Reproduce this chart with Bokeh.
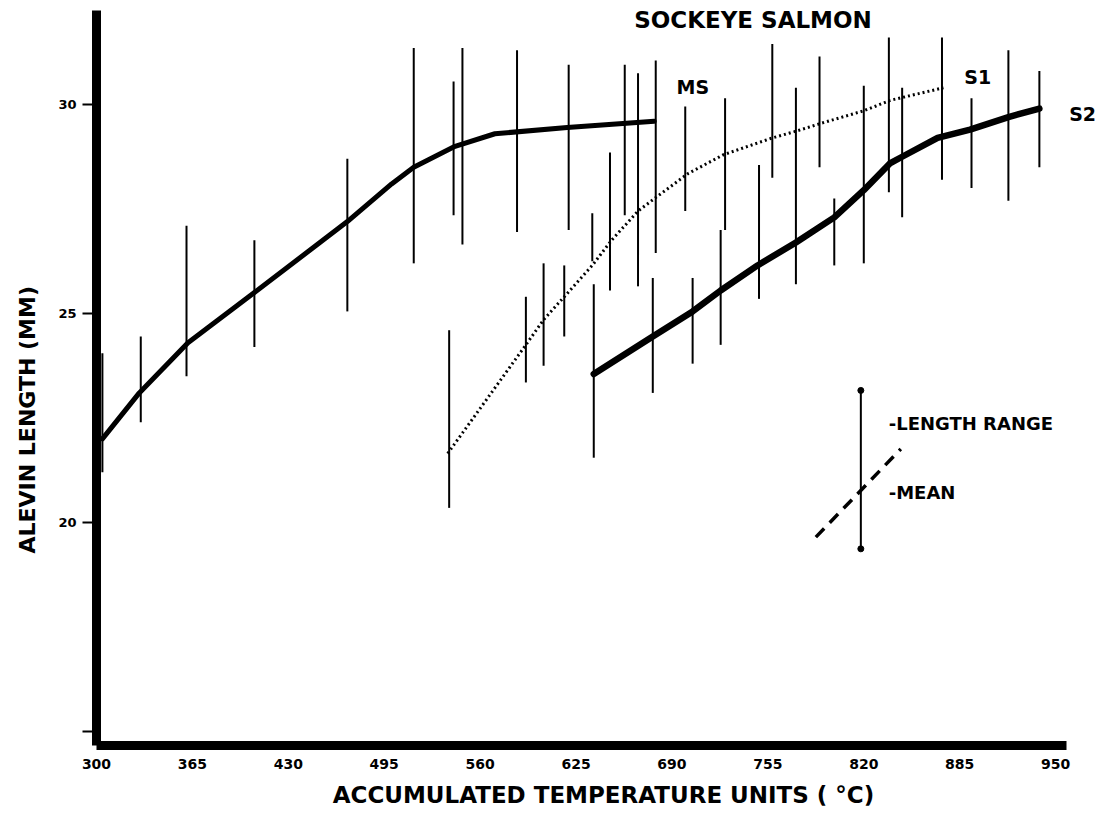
from bokeh.plotting import figure
from bokeh.models import Range1d, FixedTicker, Title
from bokeh.core.properties import value
from bokeh.embed import file_html
from bokeh.resources import INLINE

# ---- data ----
x_ticks = [300, 365, 430, 495, 560, 625, 690, 755, 820, 885, 950]
x_tick_labels = ["300", "365", "430", "495", "560", "625", "690", "755", "820", "885", "950"]
y_ticks = [15, 20, 25, 30]
y_tick_labels = ["", "20", "25", "30"]

ms_x = [304, 329, 362, 407, 470, 500, 515, 543, 570, 619, 678]
ms_y = [22.0, 23.1, 24.3, 25.5, 27.2, 28.1, 28.5, 29.0, 29.3, 29.45, 29.6]

s1_x = [538, 591, 603, 617, 636, 649, 667, 680, 701, 725, 758, 773, 791, 820, 838, 874]
s1_y = [21.65, 24.25, 24.85, 25.4, 26.15, 26.75, 27.45, 27.8, 28.35, 28.8, 29.2, 29.35, 29.55, 29.85, 30.1, 30.4]

s2_x = [637, 677, 704, 723, 748, 774, 800, 820, 838, 846, 870, 892, 918, 939]
s2_y = [23.55, 24.45, 25.05, 25.55, 26.15, 26.7, 27.3, 27.95, 28.6, 28.75, 29.2, 29.4, 29.7, 29.9]

bar_x = [304, 330, 361, 407, 470, 515, 542, 548, 539, 585, 591, 603, 617, 620, 636, 637, 648, 658, 667, 679,
         677, 699, 704, 726, 723, 749, 758, 774, 790, 800, 820, 837, 846, 873, 893, 918, 939]
bar_hi = [24.05, 24.45, 27.1, 26.75, 28.7, 31.35, 30.55, 31.35, 24.6, 31.3, 25.4, 26.2, 26.15, 30.95, 27.4, 25.7,
          28.85, 30.95, 30.75, 31.05, 25.85, 29.95, 25.85, 30.15, 27.0, 28.55, 31.45, 30.4, 31.15, 27.75, 30.45,
          31.6, 30.4, 31.6, 30.15, 31.3, 30.8]
bar_lo = [21.2, 22.4, 23.5, 24.2, 25.05, 26.2, 27.35, 26.65, 20.35, 26.95, 23.35, 23.75, 24.45, 27.0, 26.25, 21.55,
          25.55, 27.35, 25.65, 26.45, 23.1, 27.45, 23.8, 27.0, 24.25, 25.35, 28.25, 25.7, 28.5, 26.15, 26.2,
          27.9, 27.3, 28.2, 28.0, 27.7, 28.5]

# key (explanation) sample
key_x = [818]
key_lo = [19.37]
key_hi = [23.16]
key_dash_x = [787.5, 845.1]
key_dash_y = [19.65, 21.76]

FONT = value("DejaVu Sans")

p = figure(width=1110, height=813, output_backend="svg", toolbar_location=None,
           x_range=Range1d(300, 987.2), y_range=Range1d(14.665, 32.488),
           min_border_left=95, min_border_right=0, min_border_top=0, min_border_bottom=68)
p.outline_line_color = None
p.grid.visible = False
p.background_fill_color = "white"

# axes
xa = p.xaxis[0]
xa.ticker = FixedTicker(ticks=x_ticks)
xa.major_label_overrides = {t: l for t, l in zip(x_ticks, x_tick_labels)}
xa.bounds = (297, 957.5)
xa.axis_line_width = 9
xa.axis_line_color = "black"
xa.major_tick_line_color = None
xa.minor_tick_line_color = None
xa.major_tick_out = 0
xa.major_tick_in = 0
xa.major_label_standoff = 13
xa.major_label_text_font = "DejaVu Sans"
xa.major_label_text_font_style = "bold"
xa.major_label_text_font_size = "14px"
xa.major_label_text_color = "black"
xa.axis_label = "ACCUMULATED TEMPERATURE UNITS ( °C)"
xa.axis_label_standoff = 10
xa.axis_label_text_font = "DejaVu Sans"
xa.axis_label_text_font_style = "bold"
xa.axis_label_text_font_size = "23px"
xa.axis_label_text_color = "black"

ya = p.yaxis[0]
ya.ticker = FixedTicker(ticks=y_ticks)
ya.major_label_overrides = {t: l for t, l in zip(y_ticks, y_tick_labels)}
ya.bounds = (14.56, 32.25)
ya.axis_line_width = 9
ya.axis_line_color = "black"
ya.major_tick_line_width = 2
ya.major_tick_line_color = "black"
ya.minor_tick_line_color = None
ya.major_tick_out = 14
ya.major_tick_in = 0
ya.major_label_standoff = 6
ya.major_label_text_font = "DejaVu Sans"
ya.major_label_text_font_style = "bold"
ya.major_label_text_font_size = "13px"
ya.major_label_text_color = "black"

# y-axis title, placed beside the axis
p.add_layout(Title(text="ALEVIN LENGTH (MM)", align="left", vertical_align="top", offset=192,
                   standoff=28, text_font="DejaVu Sans", text_font_style="bold",
                   text_font_size="22px", text_color="black"), "left")

# range bars
p.segment(x0=bar_x, y0=bar_lo, x1=bar_x, y1=bar_hi, line_width=2, line_color="black")

# curves
p.line(ms_x, ms_y, line_width=5, line_color="black", line_join="round", line_cap="round")
p.line(s1_x, s1_y, line_width=3, line_color="black", line_dash="2 3")
p.line(s2_x, s2_y, line_width=6.5, line_color="black", line_join="round", line_cap="round")

# key sample
p.segment(x0=key_x, y0=key_lo, x1=key_x, y1=key_hi, line_width=2, line_color="black")
p.scatter(key_x + key_x, key_lo + key_hi, size=6, color="black")
p.line(key_dash_x, key_dash_y, line_width=3.5, line_color="black", line_dash="12 8")

# texts
def txt(x, y, s, size, align="center"):
    p.text(x=[x], y=[y], text=[s], text_font=FONT, text_font_style="bold",
           text_font_size=size, text_align=align, text_baseline="middle", text_color="black")

txt(744.9, 32.03, "SOCKEYE SALMON", "23px")
txt(704.2, 30.41, "MS", "19px")
txt(897.2, 30.65, "S1", "19px")
txt(968.3, 29.78, "S2", "19px")
txt(836.9, 22.36, "-LENGTH RANGE", "18px", "left")
txt(836.9, 20.72, "-MEAN", "18px", "left")

open("out.html", "w").write(file_html(p, INLINE))
